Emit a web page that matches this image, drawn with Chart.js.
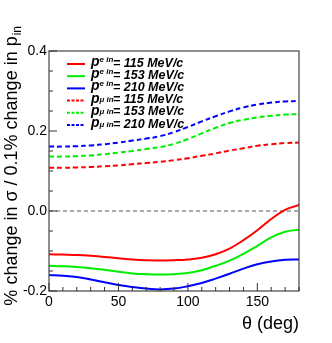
<!DOCTYPE html>
<html>
<head>
<meta charset="utf-8">
<script src="https://cdn.jsdelivr.net/npm/chart.js@4"></script>
<style>
  html, body { margin: 0; padding: 0; background: #fff; }
  #wrap { width: 332px; height: 343px; }
</style>
</head>
<body>
<div id="wrap"><canvas id="grafico" width="332" height="343"></canvas></div>
<script>
// Dados
const theta = [0, 10, 20, 30, 40, 50, 60, 70, 80, 90, 100, 110, 120, 130, 140, 150, 160, 170, 180];

const eletron115 = [-0.108, -0.109, -0.110, -0.112, -0.115, -0.118, -0.121, -0.123, -0.124, -0.123, -0.121, -0.117, -0.108, -0.094, -0.073, -0.048, -0.020, 0.003, 0.015];
const eletron153 = [-0.137, -0.138, -0.140, -0.143, -0.147, -0.152, -0.156, -0.158, -0.159, -0.158, -0.155, -0.148, -0.137, -0.124, -0.107, -0.087, -0.066, -0.052, -0.047];
const eletron210 = [-0.160, -0.162, -0.165, -0.171, -0.178, -0.185, -0.190, -0.194, -0.196, -0.194, -0.188, -0.180, -0.169, -0.157, -0.144, -0.133, -0.126, -0.122, -0.121];
const muon115 = [0.108, 0.108, 0.109, 0.110, 0.112, 0.114, 0.117, 0.120, 0.123, 0.127, 0.132, 0.138, 0.144, 0.151, 0.157, 0.163, 0.167, 0.170, 0.171];
const muon153 = [0.136, 0.136, 0.137, 0.139, 0.142, 0.146, 0.150, 0.155, 0.160, 0.168, 0.180, 0.194, 0.208, 0.220, 0.228, 0.234, 0.238, 0.241, 0.242];
const muon210 = [0.161, 0.161, 0.162, 0.164, 0.167, 0.171, 0.176, 0.181, 0.187, 0.197, 0.210, 0.224, 0.237, 0.249, 0.259, 0.266, 0.271, 0.274, 0.275];

const particulas = ['e', 'e', 'e', 'μ', 'μ', 'μ'];
const momentos = [115, 153, 210, 115, 153, 210];
const yTicks = [-0.2, 0.0, 0.2, 0.4];
const xTicks = [0, 50, 100, 150];

const FONTE = '"Liberation Sans", Arial, Helvetica, sans-serif';
const cores = ['#ff0000', '#00ee00', '#0000ff', '#ff0000', '#00ee00', '#0000ff'];
const series = [eletron115, eletron153, eletron210, muon115, muon153, muon210];

function montarDataset(valores, i) {
    return {
        label: 'p ' + particulas[i] + ' in = ' + momentos[i] + ' MeV/c',
        data: valores.map((v, k) => ({ x: theta[k], y: v })),
        borderColor: cores[i],
        borderWidth: 2,
        borderDash: i >= 3 ? [5, 3] : [],
        pointRadius: 0,
        tension: 0.4,
        fill: false
    };
}

// Plugin: moldura estilo ROOT, marcas, linha do zero, legenda e título do eixo Y
const pluginRoot = {
    id: 'estiloRoot',
    beforeDatasetsDraw(chart) {
        const { ctx, chartArea: a, scales } = chart;
        const y0 = scales.y.getPixelForValue(0);
        ctx.save();
        ctx.strokeStyle = '#555';
        ctx.lineWidth = 1;
        ctx.setLineDash([4, 3]);
        ctx.beginPath();
        ctx.moveTo(a.left, y0);
        ctx.lineTo(a.right, y0);
        ctx.stroke();
        ctx.restore();
    },
    afterDraw(chart) {
        const { ctx, chartArea: a, scales } = chart;
        ctx.save();

        // moldura
        ctx.strokeStyle = '#444';
        ctx.lineWidth = 1.2;
        ctx.strokeRect(a.left, a.top, a.right - a.left, a.bottom - a.top);

        // marcas do eixo x
        ctx.lineWidth = 1;
        ctx.strokeStyle = '#333';
        ctx.beginPath();
        for (let v = 0; v <= 180; v += 10) {
            const px = scales.x.getPixelForValue(v);
            const len = v % 50 === 0 ? 8 : 4;
            ctx.moveTo(px, a.bottom);
            ctx.lineTo(px, a.bottom - len);
        }
        // marcas do eixo y
        for (let k = 0; k <= 12; k++) {
            const v = -0.2 + k * 0.05;
            const py = scales.y.getPixelForValue(v);
            const len = k % 4 === 0 ? 8 : 4;
            ctx.moveTo(a.left, py);
            ctx.lineTo(a.left + len, py);
        }
        ctx.stroke();

        // legenda
        chart.data.datasets.forEach((ds, i) => {
            const yl = 64 + i * 12.2;
            ctx.strokeStyle = ds.borderColor;
            ctx.lineWidth = 2;
            ctx.setLineDash(i >= 3 ? [3, 1.5] : []);
            ctx.beginPath();
            ctx.moveTo(67, yl);
            ctx.lineTo(85, yl);
            ctx.stroke();
            ctx.setLineDash([]);

            ctx.fillStyle = '#000';
            ctx.textBaseline = 'alphabetic';
            ctx.textAlign = 'left';
            ctx.font = 'italic bold 14px ' + FONTE;
            ctx.fillText('p', 91, yl + 2);
            ctx.font = 'italic bold 8px ' + FONTE;
            const sub = particulas[i] === 'e' ? -2 : 1.5;
            ctx.fillText(particulas[i] + ' in', 99.5, yl + sub);
            ctx.font = 'italic bold 12.5px ' + FONTE;
            ctx.fillText('= ' + momentos[i] + ' MeV/c', 113, yl + 2.5);
        });

        // título do eixo y (texto girado)
        ctx.translate(17, 26);
        ctx.rotate(-Math.PI / 2);
        ctx.fillStyle = '#000';
        ctx.textAlign = 'right';
        ctx.textBaseline = 'alphabetic';
        ctx.font = '12px ' + FONTE;
        const wSub = ctx.measureText('in').width;
        ctx.fillText('in', 0, 4);
        ctx.font = '18px ' + FONTE;
        ctx.fillText('% change in σ / 0.1% change in p', -wSub - 1, 0);
        ctx.restore();

        // título do eixo x
        ctx.save();
        ctx.fillStyle = '#000';
        ctx.font = '18px ' + FONTE;
        ctx.textAlign = 'right';
        ctx.textBaseline = 'alphabetic';
        ctx.fillText('θ (deg)', 299, 329);
        ctx.restore();
    }
};

const grafico = new Chart(document.getElementById('grafico'), {
    type: 'line',
    data: { datasets: series.map(montarDataset) },
    options: {
        responsive: false,
        animation: false,
        layout: { padding: { left: 0, top: 51, right: 33, bottom: 0 } },
        plugins: { legend: { display: false }, tooltip: { enabled: false } },
        scales: {
            x: {
                type: 'linear',
                min: 0,
                max: 180,
                afterFit: (s) => { s.height = 52; },
                afterBuildTicks: (s) => { s.ticks = xTicks.map(v => ({ value: v })); },
                grid: { display: false, drawTicks: false },
                border: { display: false },
                ticks: {
                    padding: 3,
                    color: '#000',
                    font: { family: FONTE, size: 14 },
                    maxRotation: 0
                }
            },
            y: {
                min: -0.2,
                max: 0.4,
                afterFit: (s) => { s.width = 49; },
                afterBuildTicks: (s) => { s.ticks = yTicks.map(v => ({ value: v })); },
                grid: { display: false, drawTicks: false },
                border: { display: false },
                ticks: {
                    padding: 2,
                    color: '#000',
                    font: { family: FONTE, size: 14 },
                    callback: (v) => Number(v).toFixed(1)
                }
            }
        }
    },
    plugins: [pluginRoot]
});
</script>
</body>
</html>
